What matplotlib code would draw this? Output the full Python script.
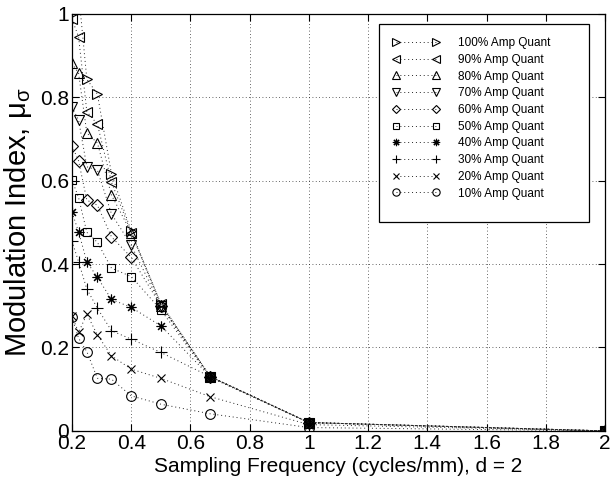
import matplotlib
matplotlib.use('Agg')
import matplotlib.pyplot as plt
from matplotlib.patches import Rectangle
import numpy as np

plt.rcParams['font.family'] = ['Liberation Sans', 'DejaVu Sans']
plt.rcParams['mathtext.default'] = 'regular'

# sampling frequencies (cycles/mm)
freq = [0.2, 0.2222, 0.25, 0.2857, 0.3333, 0.4, 0.5, 0.6667, 1.0, 2.0]

# modulation index per amplitude quantisation level
amp100 = [1.09, 1.05, 0.843, 0.807, 0.616, 0.478, 0.305, 0.13, 0.02, 0.0]
amp90 = [0.987, 0.944, 0.765, 0.735, 0.596, 0.475, 0.305, 0.13, 0.02, 0.0]
amp80 = [0.881, 0.857, 0.714, 0.69, 0.565, 0.475, 0.30, 0.13, 0.02, 0.0]
amp70 = [0.776, 0.745, 0.633, 0.625, 0.52, 0.445, 0.30, 0.13, 0.02, 0.0]
amp60 = [0.683, 0.647, 0.553, 0.541, 0.465, 0.416, 0.30, 0.13, 0.02, 0.0]
amp50 = [0.601, 0.559, 0.476, 0.452, 0.39, 0.37, 0.29, 0.128, 0.02, 0.0]
amp40 = [0.524, 0.477, 0.405, 0.368, 0.315, 0.296, 0.252, 0.13, 0.02, 0.0]
amp30 = [0.455, 0.405, 0.34, 0.294, 0.24, 0.22, 0.188, 0.13, 0.02, 0.0]
amp20 = [0.275, 0.236, 0.28, 0.23, 0.18, 0.148, 0.126, 0.082, 0.015, 0.0]
amp10 = [0.272, 0.222, 0.19, 0.126, 0.124, 0.084, 0.064, 0.041, 0.008, 0.0]

labels = ['100% Amp Quant', '90% Amp Quant', '80% Amp Quant', '70% Amp Quant',
          '60% Amp Quant', '50% Amp Quant', '40% Amp Quant', '30% Amp Quant',
          '20% Amp Quant', '10% Amp Quant']
series = [amp100, amp90, amp80, amp70, amp60, amp50, amp40, amp30, amp20, amp10]
markers = ['>', '<', '^', 'v', 'D', 's', (8, 2, 0), '+', 'x', 'o']
msizes = [7, 7, 7, 7, 6, 6, 7, 8, 6, 7]

fig = plt.figure(figsize=(6.13, 4.88), dpi=100)
ax = fig.add_axes([0.1175, 0.117, 0.8695, 0.855])

dots = (0, (1, 3))
for y, lab, m, ms in zip(series, labels, markers, msizes):
    ax.plot(freq, y, linestyle=dots, color='0.15', linewidth=0.7,
            marker=m, markersize=ms, markerfacecolor='none',
            markeredgecolor='black', markeredgewidth=0.8, label=lab)

ax.set_xlim(0.2, 2)
ax.set_ylim(0, 1)
ax.set_xticks(np.arange(0.2, 2.01, 0.2))
ax.set_xticklabels(['0.2', '0.4', '0.6', '0.8', '1', '1.2', '1.4', '1.6', '1.8', '2'])
ax.set_yticks(np.arange(0, 1.01, 0.2))
ax.set_yticklabels(['0', '0.2', '0.4', '0.6', '0.8', '1'])
ax.tick_params(direction='in', top=True, right=True, labelsize=15, length=5, pad=2)
ax.grid(True, linestyle=dots, color='black', linewidth=0.6, alpha=0.8)
for s in ax.spines.values():
    s.set_linewidth(0.9)

ax.set_xlabel('Sampling Frequency (cycles/mm), d = 2', fontsize=15, labelpad=3)
ax.set_ylabel('Modulation Index, μ$_σ$', fontsize=21)
ax.yaxis.set_label_coords(-0.072, 0.5)

# legend box drawn separately so its width matches the reference
ax.add_patch(Rectangle((0.576, 0.5), 0.394, 0.475, transform=ax.transAxes,
                       facecolor='white', edgecolor='black', linewidth=0.9,
                       zorder=4))
leg = ax.legend(loc='upper left', bbox_to_anchor=(0.576, 0.975), borderaxespad=0,
                fontsize=8.5, numpoints=2, handlelength=4.0, labelspacing=0.4,
                frameon=False, borderpad=1.1, handletextpad=1.6, markerscale=0.75)
leg.set_zorder(5)

fig.savefig('out.png', dpi=100)
